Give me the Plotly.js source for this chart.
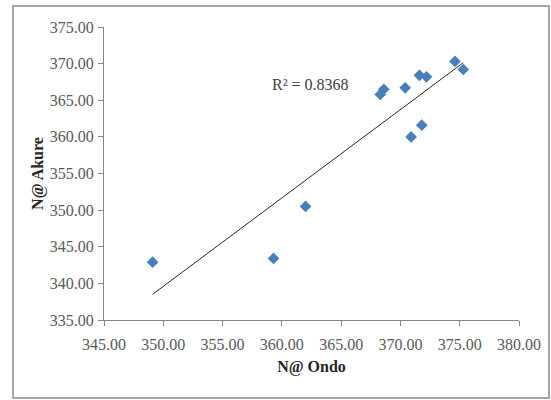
<!DOCTYPE html>
<html>
<head>
<meta charset="utf-8">
<script src="https://cdn.plot.ly/plotly-3.0.1.min.js"></script>
<style>
html,body{margin:0;padding:0;background:#fff;}
#chart{width:551px;height:400px;}
</style>
</head>
<body>
<div id="chart"></div>
<script>
// Data
const ondo  = [349.1, 359.3, 362.0, 368.3, 368.6, 370.4, 370.9, 371.8, 371.6, 372.2, 374.6, 375.3];
const akure = [342.9, 343.4, 350.5, 365.8, 366.5, 366.7, 360.0, 361.6, 368.4, 368.2, 370.3, 369.2];
const xTicks = [345, 350, 355, 360, 365, 370, 375, 380];
const yTicks = [335, 340, 345, 350, 355, 360, 365, 370, 375];
const r2Label = "R\u00B2 = 0.8368";

// Linear least-squares trendline from the data
const n = ondo.length;
const mx = ondo.reduce((a,b)=>a+b,0)/n;
const my = akure.reduce((a,b)=>a+b,0)/n;
let sxy = 0, sxx = 0;
for (let i=0;i<n;i++){ sxy += (ondo[i]-mx)*(akure[i]-my); sxx += (ondo[i]-mx)**2; }
const slope = sxy/sxx, icpt = my - slope*mx;
const xmin = Math.min(...ondo), xmax = Math.max(...ondo);
const trendX = [xmin, xmax];
const trendY = trendX.map(v => icpt + slope*v);

const serif = "Liberation Serif, Times New Roman, serif";
const fmt = v => v.toFixed(2);

const traces = [
  {x: trendX, y: trendY, mode: 'lines', type: 'scatter',
   line: {color: '#262626', width: 1}, hoverinfo: 'skip', showlegend: false},
  {x: ondo, y: akure, mode: 'markers', type: 'scatter',
   marker: {symbol: 'diamond', size: 9, color: '#4a7ebb'}, showlegend: false}
];

const axisCommon = {
  showgrid: false, zeroline: false, showline: true, linecolor: '#868686', linewidth: 1,
  ticks: 'outside', ticklen: 5, tickcolor: '#868686', tickwidth: 1,
  tickfont: {family: serif, size: 16, color: '#595959'}, tickmode: 'array'
};

const layout = {
  width: 551, height: 400,
  margin: {l: 104, r: 32, t: 27, b: 80},
  paper_bgcolor: '#ffffff', plot_bgcolor: '#ffffff',
  showlegend: false,
  xaxis: Object.assign({}, axisCommon, {
    range: [345, 380], tickvals: xTicks, ticktext: xTicks.map(fmt),
    ticklabelstandoff: 5,
    title: {text: '<b>N@ Ondo</b>', font: {family: serif, size: 16, color: '#262626'}, standoff: 8}
  }),
  yaxis: Object.assign({}, axisCommon, {
    range: [335, 375], tickvals: yTicks, ticktext: yTicks.map(fmt),
    ticklabelstandoff: 1,
    title: {text: '<b>N@ Akure</b>', font: {family: serif, size: 16, color: '#262626'}, standoff: 2}
  }),
  annotations: [{
    text: r2Label, xref: 'paper', yref: 'paper', x: (310-104)/415, y: (320-84)/293,
    showarrow: false, xanchor: 'center', yanchor: 'middle',
    font: {family: serif, size: 16, color: '#404040'}
  }],
  shapes: [{
    type: 'rect', xref: 'paper', yref: 'paper', layer: 'below',
    x0: (13-104)/415, x1: (549-104)/415, y0: (320-398)/293, y1: (320-6)/293,
    line: {color: '#a6a6a6', width: 2}, fillcolor: 'rgba(0,0,0,0)'
  }]
};

Plotly.newPlot('chart', traces, layout, {displayModeBar: false, staticPlot: true});
</script>
</body>
</html>
